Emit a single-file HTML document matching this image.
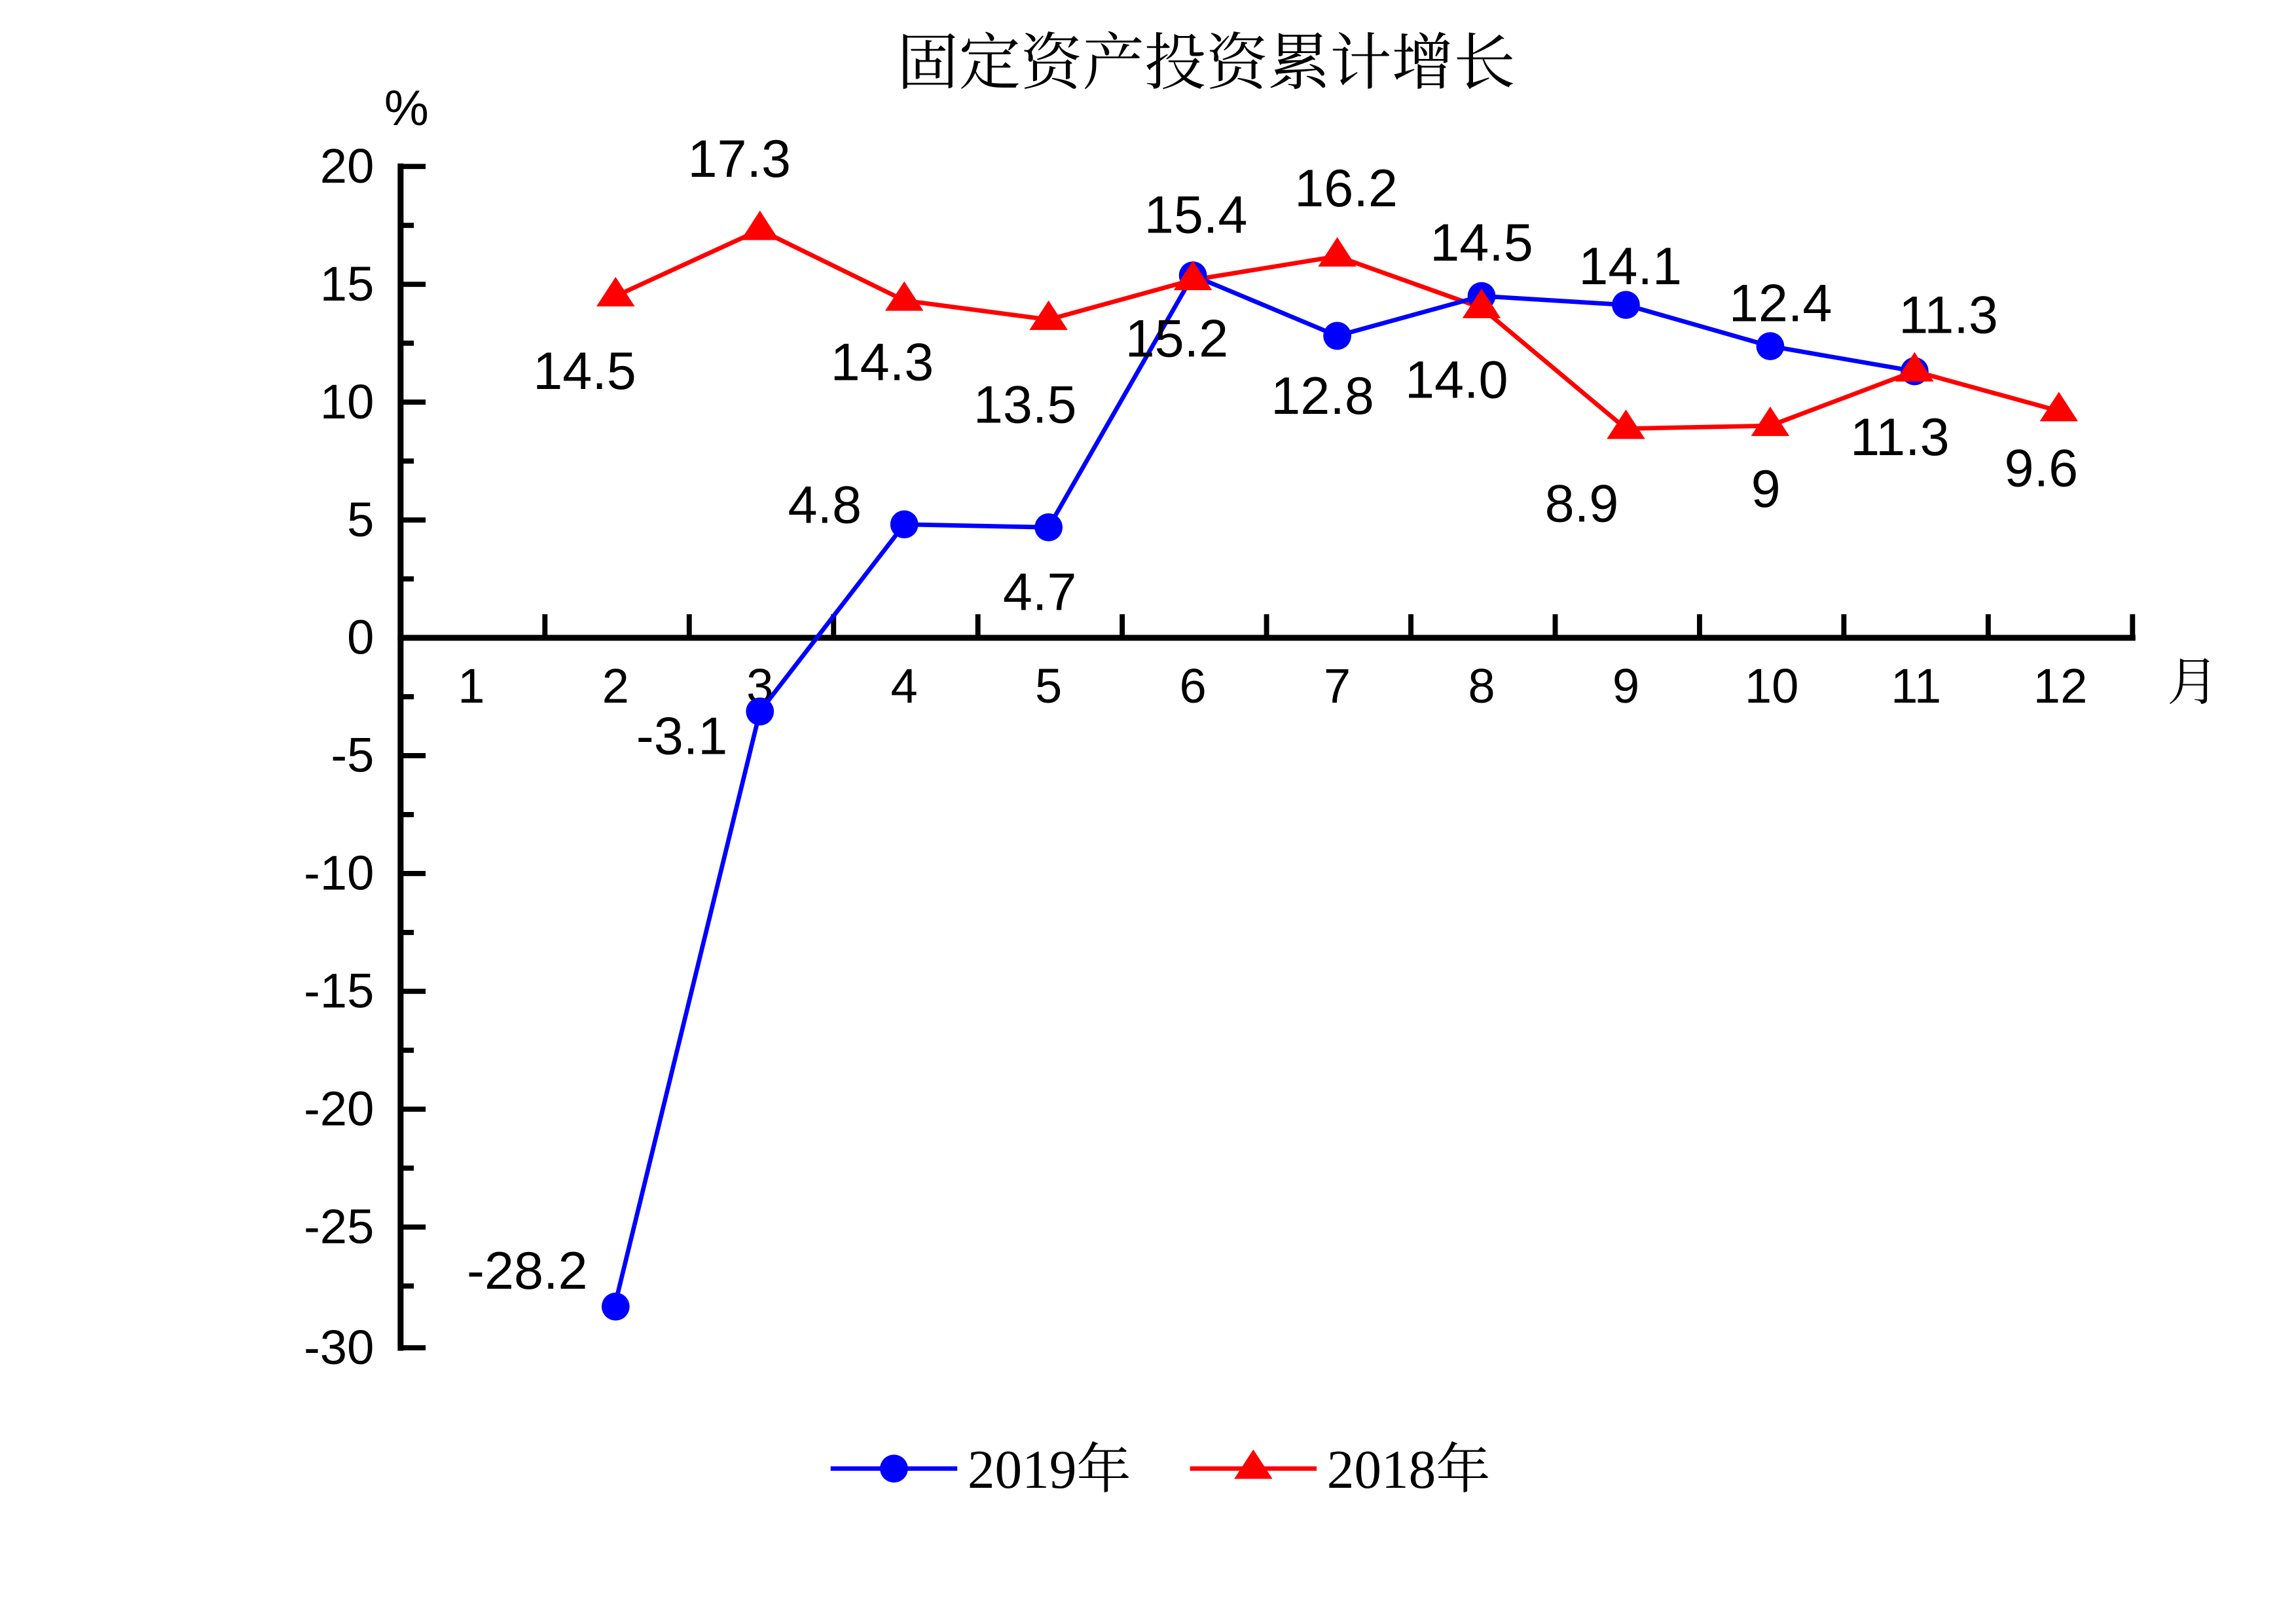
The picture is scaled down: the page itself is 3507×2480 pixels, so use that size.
<!DOCTYPE html>
<html><head><meta charset="utf-8"><style>html,body{margin:0;padding:0;background:#fff}svg{display:block}</style></head>
<body>
<svg width="3507" height="2480" viewBox="0 0 1559 1102.5" preserveAspectRatio="none" xmlns="http://www.w3.org/2000/svg">
<rect width="1559" height="1102.5" fill="#fff"/>
<g font-family="Liberation Sans, Noto Sans CJK SC, sans-serif" fill="#000">
<text x="819" y="57" font-size="42" text-anchor="middle" font-family="Noto Serif CJK SC, Noto Sans CJK SC, serif">固定资产投资累计增长</text>
<text x="276" y="85" font-size="34" text-anchor="middle">%</text>
<text x="1489" y="475" font-size="35" text-anchor="middle" font-family="Noto Serif CJK SC, serif">月</text>
</g>
<g stroke="#000" stroke-width="4" fill="none">
<line x1="272" y1="111" x2="272" y2="917"/>
<line x1="270" y1="433" x2="1450" y2="433"/>
</g>
<g stroke="#000" stroke-width="3.5">
<line x1="272" y1="113" x2="289" y2="113"/><line x1="272" y1="193" x2="289" y2="193"/><line x1="272" y1="273" x2="289" y2="273"/><line x1="272" y1="353" x2="289" y2="353"/><line x1="272" y1="513" x2="289" y2="513"/><line x1="272" y1="593" x2="289" y2="593"/><line x1="272" y1="673" x2="289" y2="673"/><line x1="272" y1="753" x2="289" y2="753"/><line x1="272" y1="833" x2="289" y2="833"/><line x1="272" y1="915" x2="289" y2="915"/>
<line x1="272" y1="153" x2="281" y2="153"/><line x1="272" y1="233" x2="281" y2="233"/><line x1="272" y1="313" x2="281" y2="313"/><line x1="272" y1="393" x2="281" y2="393"/><line x1="272" y1="473" x2="281" y2="473"/><line x1="272" y1="553" x2="281" y2="553"/><line x1="272" y1="633" x2="281" y2="633"/><line x1="272" y1="713" x2="281" y2="713"/><line x1="272" y1="793" x2="281" y2="793"/><line x1="272" y1="873" x2="281" y2="873"/>
<line x1="370" y1="433" x2="370" y2="417"/><line x1="468" y1="433" x2="468" y2="417"/><line x1="566" y1="433" x2="566" y2="417"/><line x1="664" y1="433" x2="664" y2="417"/><line x1="762" y1="433" x2="762" y2="417"/><line x1="860" y1="433" x2="860" y2="417"/><line x1="958" y1="433" x2="958" y2="417"/><line x1="1056" y1="433" x2="1056" y2="417"/><line x1="1154" y1="433" x2="1154" y2="417"/><line x1="1252" y1="433" x2="1252" y2="417"/><line x1="1350" y1="433" x2="1350" y2="417"/><line x1="1448" y1="433" x2="1448" y2="417"/>
</g>
<g font-family="Liberation Sans, sans-serif" font-size="33" fill="#000" text-anchor="end">
<text x="254" y="124">20</text><text x="254" y="204">15</text><text x="254" y="284">10</text><text x="254" y="364">5</text><text x="254" y="444">0</text><text x="254" y="524">-5</text><text x="254" y="604">-10</text><text x="254" y="684">-15</text><text x="254" y="764">-20</text><text x="254" y="844">-25</text><text x="254" y="926">-30</text>
</g>
<g font-family="Liberation Sans, sans-serif" font-size="33" fill="#000" text-anchor="middle">
<text x="320" y="477">1</text><text x="418" y="477">2</text><text x="516" y="477">3</text><text x="614" y="477">4</text><text x="712" y="477">5</text><text x="810" y="477">6</text><text x="908" y="477">7</text><text x="1006" y="477">8</text><text x="1104" y="477">9</text><text x="1203" y="477">10</text><text x="1301" y="477">11</text><text x="1399" y="477">12</text>
</g>
<polyline fill="none" stroke="#ff0000" stroke-width="3" points="418,201 516,156 614,204 712,217 810,190 908,174 1006,209 1104,291 1202,289 1300,252 1398,279"/>
<polyline fill="none" stroke="#0000ff" stroke-width="3" points="418,884 516,483 614,356 712,358 810,187 908,228 1006,201 1104,207 1202,235 1300,252"/>
<g fill="#0000ff">
<circle cx="418" cy="887" r="9.5"/><circle cx="516" cy="483" r="9.5"/><circle cx="614" cy="356" r="9.5"/><circle cx="712" cy="358" r="9.5"/><circle cx="810" cy="187" r="9.5"/><circle cx="908" cy="228" r="9.5"/><circle cx="1006" cy="201" r="9.5"/><circle cx="1104" cy="207" r="9.5"/><circle cx="1202" cy="235" r="9.5"/><circle cx="1300" cy="252" r="9.5"/>
</g>
<g fill="#ff0000">
<polygon points="418,188 405,208 431,208"/><polygon points="516,143 503,163 529,163"/><polygon points="614,191 601,211 627,211"/><polygon points="712,204 699,224 725,224"/><polygon points="810,177 797,197 823,197"/><polygon points="908,161 895,181 921,181"/><polygon points="1006,196 993,216 1019,216"/><polygon points="1104,278 1091,298 1117,298"/><polygon points="1202,276 1189,296 1215,296"/><polygon points="1300,239 1287,259 1313,259"/><polygon points="1398,266 1385,286 1411,286"/>
</g>
<g font-family="Liberation Sans, sans-serif" font-size="36" fill="#000" text-anchor="middle">
<text x="397" y="264">14.5</text><text x="502" y="120">17.3</text><text x="599" y="258">14.3</text><text x="696" y="287">13.5</text><text x="799" y="242">15.2</text><text x="914" y="140">16.2</text><text x="989" y="270">14.0</text><text x="1074" y="354">8.9</text><text x="1199" y="344">9</text><text x="1290" y="309">11.3</text><text x="1386" y="330">9.6</text>
<text x="358" y="875">-28.2</text><text x="463" y="512">-3.1</text><text x="560" y="355">4.8</text><text x="706" y="414">4.7</text><text x="812" y="158">15.4</text><text x="898" y="281">12.8</text><text x="1006" y="177">14.5</text><text x="1107" y="193">14.1</text><text x="1209" y="218">12.4</text><text x="1323" y="226">11.3</text>
</g>
<line x1="564" y1="997" x2="650" y2="997" stroke="#0000ff" stroke-width="3"/>
<circle cx="607" cy="997" r="9.5" fill="#0000ff"/>
<text x="657" y="1010" font-family="Liberation Serif, Noto Serif CJK SC, serif" font-size="37">2019年</text>
<line x1="808" y1="997" x2="894" y2="997" stroke="#ff0000" stroke-width="3"/>
<polygon points="851,984 838,1004 864,1004" fill="#ff0000"/>
<text x="901" y="1010" font-family="Liberation Serif, Noto Serif CJK SC, serif" font-size="37">2018年</text>
</svg>
</body></html>
